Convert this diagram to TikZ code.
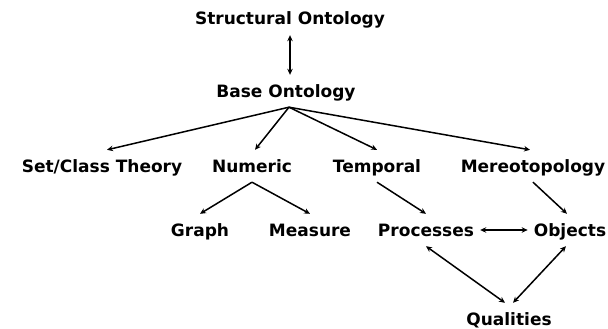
\documentclass[tikz,border=0pt]{standalone}
\usepackage{fontspec}
\setmainfont{DejaVu Sans}
\usetikzlibrary{arrows.meta}
\begin{document}
\begin{tikzpicture}[x=1pt,y=-1pt,
  lbl/.style={anchor=base,font=\fontsize{17}{19}\selectfont\bfseries,
    text height=14pt,text depth=2pt,inner ysep=8pt,inner xsep=6pt},
  conn/.style={line width=1.5pt,-{Stealth[length=6pt,width=5.5pt]}},
  biconn/.style={line width=1.5pt,{Stealth[length=6pt,width=5.5pt]}-{Stealth[length=6pt,width=5.5pt]}}]
\useasboundingbox[fill=white] (0,0) rectangle (608,329);
\node[lbl] (struct) at (290,25) {Structural Ontology};
\node[lbl] (base) at (286,97) {Base Ontology};
\node[lbl] (setc) at (102,172) {Set/Class Theory};
\node[lbl] (num) at (252,172) {Numeric};
\node[lbl] (temp) at (377,172) {Temporal};
\node[lbl] (mereo) at (533,172) {Mereotopology};
\node[lbl] (graph) at (200,236) {Graph};
\node[lbl] (meas) at (310,236) {Measure};
\node[lbl] (proc) at (426,236) {Processes};
\node[lbl] (obj) at (570,236) {Objects};
\node[lbl] (qual) at (509,325) {Qualities};
\draw[biconn] (struct.south) -- (struct.south |- base.north);
\draw[conn] ([xshift=3pt]base.south) -- ([xshift=5pt]setc.north);
\draw[conn] ([xshift=3pt]base.south) -- ([xshift=3pt]num.north);
\draw[conn] ([xshift=3pt]base.south) -- (temp.north);
\draw[conn] ([xshift=3pt]base.south) -- ([xshift=-3pt]mereo.north);
\draw[conn] (num.south) -- (graph.north);
\draw[conn] (num.south) -- (meas.north);
\draw[conn] (temp.south) -- (proc.north);
\draw[conn] (mereo.south) -- ([xshift=-3pt]obj.north);
\draw[biconn] (proc.east) -- (obj.west);
\draw[biconn] (proc.south) -- ([xshift=-4pt]qual.north);
\draw[biconn] ([xshift=-4pt]obj.south) -- ([xshift=4pt]qual.north);
\end{tikzpicture}
\end{document}
